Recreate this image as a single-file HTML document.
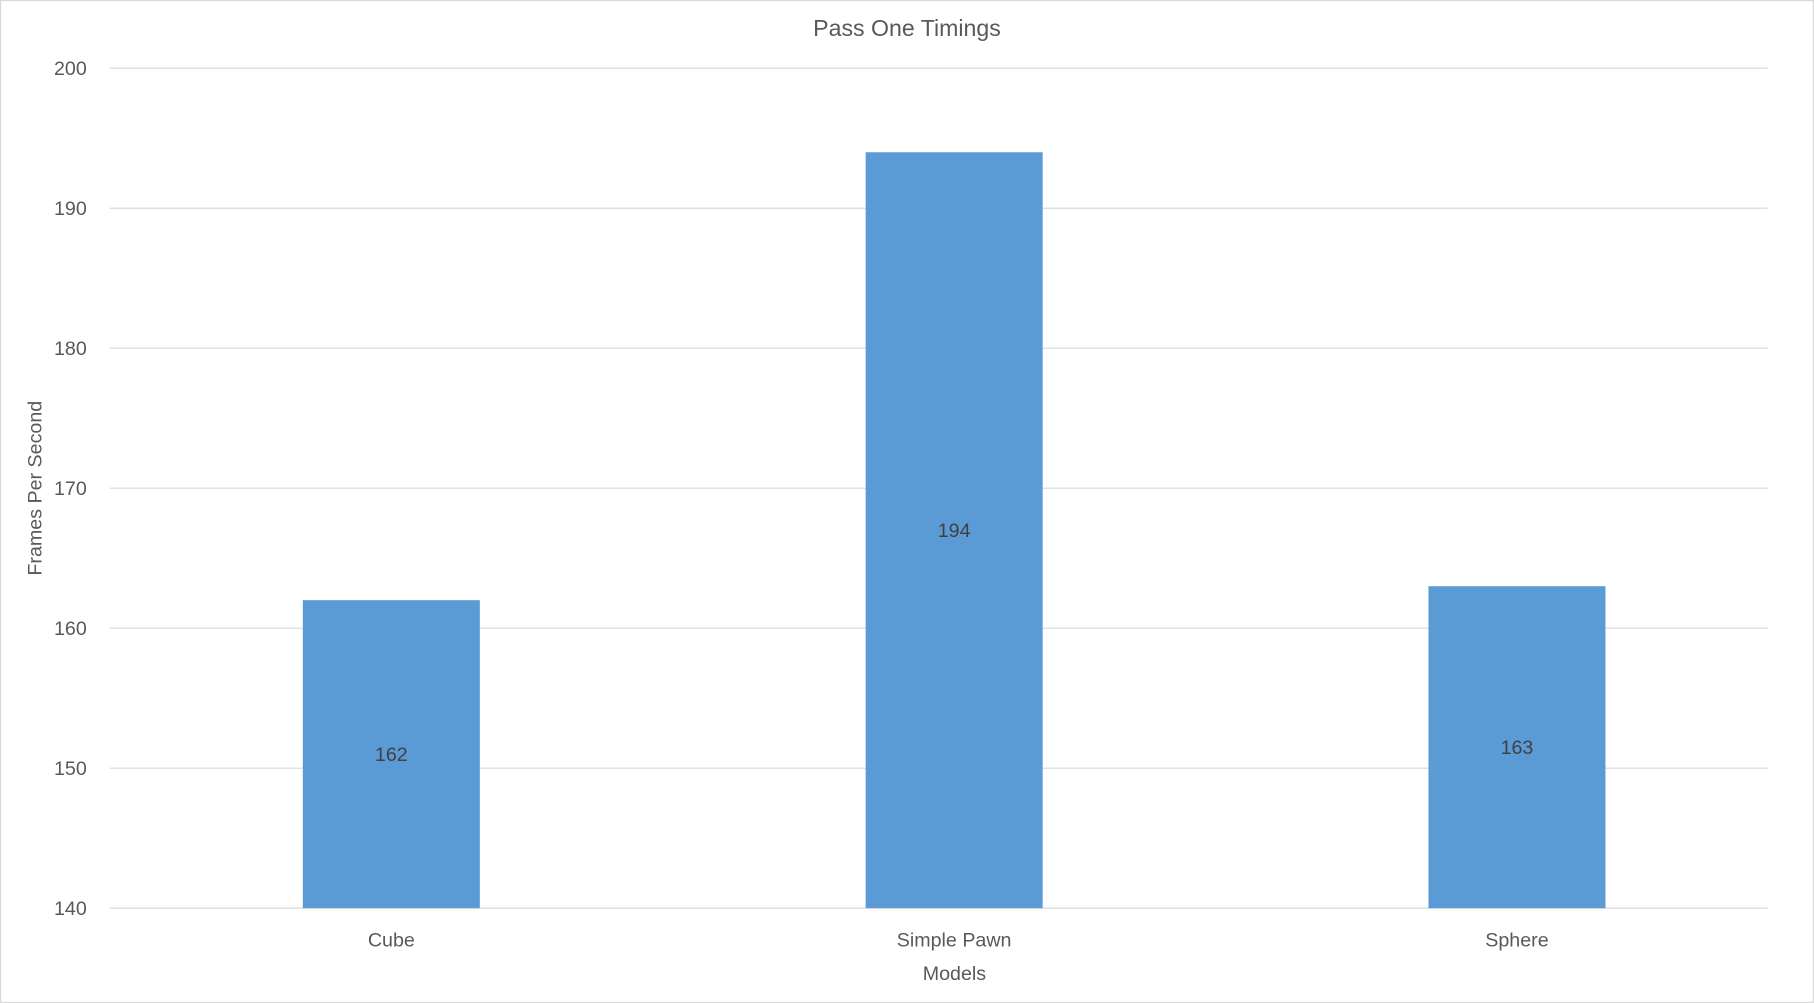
<!DOCTYPE html>
<html><head><meta charset="utf-8"><style>
html,body{margin:0;padding:0;background:#fff;}
svg{display:block;font-family:"Liberation Sans",sans-serif;}
</style></head><body>
<svg id="chart" width="1814" height="1003" viewBox="0 0 1568 867" preserveAspectRatio="none">
<rect x="0.5" y="0.5" width="1567" height="866" fill="#fff" stroke="#d9d9d9"/>
<text x="784" y="31" text-anchor="middle" font-size="20" fill="#595959">Pass One Timings</text>
<g id="grid"></g><g id="bars"></g><g id="labels"></g>
<text x="825" y="847" text-anchor="middle" font-size="17" fill="#595959">Models</text>
<text transform="translate(36,422) rotate(-90)" text-anchor="middle" font-size="17" fill="#595959">Frames Per Second</text>
</svg>
<script>
const categories=["Cube","Simple Pawn","Sphere"];
const values=[162,194,163];
const ticks=[140,150,160,170,180,190,200];
const NS="http://www.w3.org/2000/svg";
const x0=95,x1=1528,yTop=59,yBot=785,vMin=140,vMax=200;
function y(v){return yBot-(v-vMin)/(vMax-vMin)*(yBot-yTop);}
const band=486.5;
function xc(i){return x0+band*(i+0.5);}
function mk(tag,attrs,parent,txt){const e=document.createElementNS(NS,tag);for(const k in attrs)e.setAttribute(k,attrs[k]);if(txt!=null)e.textContent=txt;document.getElementById(parent).appendChild(e);return e;}
ticks.forEach(t=>{
 const l=mk('line',{x1:x0,x2:x1,y1:y(t),y2:y(t),stroke:'#d9d9d9','stroke-width':1},'grid');
 
 
 const tx=mk('text',{x:75,y:y(t)+6,'text-anchor':'end','font-size':17,fill:'#595959'},'labels',t);
 
 
});
const bw=153;
categories.forEach((c,i)=>{
 const r=mk('rect',{x:xc(i)-bw/2,y:y(values[i]),width:bw,height:yBot-y(values[i]),fill:'#5b9bd5'},'bars');
 
 
 const v=mk('text',{x:xc(i),y:(y(values[i])+yBot)/2+6,'text-anchor':'middle','font-size':17,fill:'#404040'},'labels',values[i]);
 
 
 const cl=mk('text',{x:xc(i),y:818,'text-anchor':'middle','font-size':17,fill:'#595959'},'labels',c);
 
 
});
</script>
</body></html>
